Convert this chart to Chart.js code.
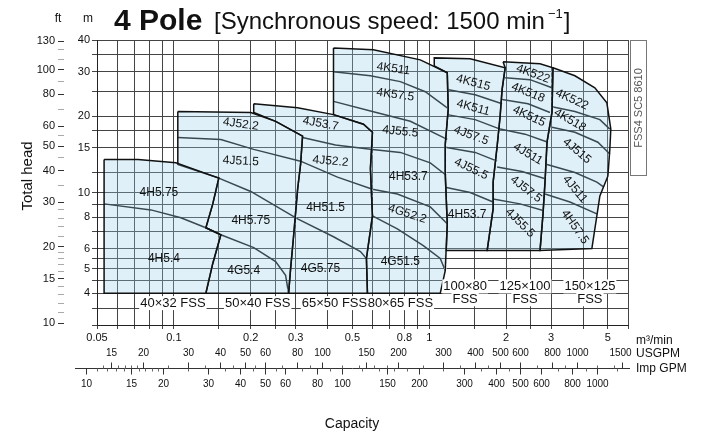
<!DOCTYPE html>
<html>
<head>
<meta charset="utf-8">
<script src="https://cdn.jsdelivr.net/npm/chart.js@4.4.1/dist/chart.umd.min.js"></script>
<style>
  html, body { margin: 0; padding: 0; background: #fff; }
</style>
</head>
<body>
<canvas id="pumpChart" width="712" height="437"></canvas>
<script>
// capacity (m3/min) and head (m) axes
const capGrid = [0.05, 0.06, 0.07, 0.08, 0.09, 0.1, 0.15, 0.2, 0.25, 0.3, 0.4, 0.5, 0.6, 0.7, 0.8, 0.9, 1, 1.5, 2, 2.5, 3, 4, 5, 6];
const capLabels = [0.05, 0.1, 0.2, 0.3, 0.5, 0.8, 1, 2, 3, 5];
const headGrid = [3, 3.5, 4, 4.5, 5, 5.5, 6, 7, 8, 9, 10, 12, 15, 17.5, 20, 25, 30, 35, 40];
const headLabels = [4, 5, 6, 8, 10, 15, 20, 30, 40];
const ftLabels = [10, 15, 20, 30, 40, 50, 60, 80, 100, 130];
const ftMinor = [11, 12, 13, 14, 16, 17, 18, 19, 22, 24, 26, 28, 35, 45, 55, 70, 90, 110, 120];
const usgpmLabels = [15, 20, 30, 40, 50, 60, 80, 100, 150, 200, 300, 400, 500, 600, 800, 1000, 1500];
const usgpmMinor = [14, 16, 17, 18, 19, 25, 35, 45, 55, 70, 90, 120, 140, 160, 180, 250, 350, 450, 700, 900, 1200, 1400];
const impLabels = [10, 15, 20, 30, 40, 50, 60, 80, 100, 150, 200, 300, 400, 500, 600, 800, 1000];
const impMinor = [11, 12, 13, 14, 16, 17, 18, 19, 25, 35, 45, 55, 70, 90, 120, 140, 160, 180, 250, 350, 450, 700, 900, 1200];
const USGPM_PER_M3 = 264.17;
const IMPGPM_PER_M3 = 219.97;
const FT_PER_M = 3.28084;

// outlines of each pump size, [capacity m3/min, head m]
const fss40x32 = [[0.0533,13.5],[0.0724,13.5],[0.1018,13.1],[0.1499,11.4],[0.142,9.02],[0.1334,7.26],[0.1527,6.81],[0.142,5.25],[0.1334,4.0],[0.0533,4.0]];
const fss50x40 = [[0.1036,20.9],[0.2,20.7],[0.2503,19.1],[0.319,16.7],[0.3133,12.9],[0.3051,10.3],[0.2943,6.75],[0.2864,5.01],[0.2813,4.0],[0.1334,4.0],[0.142,5.25],[0.1527,6.81],[0.1334,7.26],[0.142,9.02],[0.1499,11.4],[0.1036,12.9]];
const fss65x50 = [[0.2054,22.4],[0.3051,21.6],[0.4217,20.3],[0.5524,18.6],[0.599,17.3],[0.5882,12.4],[0.599,8.09],[0.5674,5.49],[0.5726,4.0],[0.2813,4.0],[0.2864,5.01],[0.2943,6.75],[0.3051,10.3],[0.3133,12.9],[0.319,16.7],[0.2503,19.1],[0.2054,20.7]];
const fss80x65 = [[0.4217,37.2],[0.6044,36.6],[0.9222,33.4],[1.176,29.7],[1.186,21.3],[1.155,15.5],[1.155,11.8],[1.176,7.53],[1.155,4.92],[1.104,4.0],[0.5726,4.0],[0.5674,5.49],[0.599,8.09],[0.5882,12.4],[0.599,17.3],[0.5524,18.6],[0.4217,20.3]];
const fss100x80 = [[1.046,31.6],[1.046,34.0],[1.446,33.7],[1.982,31.1],[1.928,25.5],[1.894,20.0],[1.843,15.2],[1.778,11.0],[1.778,8.62],[1.685,5.9],[1.165,5.9],[1.176,7.53],[1.155,11.8],[1.155,15.5],[1.186,21.3],[1.176,29.7]];
const fss125x100 = [[1.945,32.8],[2.714,32.2],[3.05,31.1],[3.023,20.7],[2.891,15.8],[2.839,11.0],[2.788,8.24],[2.714,5.9],[1.685,5.9],[1.778,8.62],[1.778,11.0],[1.843,15.2],[1.894,20.0],[1.928,25.5],[1.982,31.1]];
const fss150x125 = [[3.05,31.1],[3.718,28.9],[4.45,25.9],[4.959,22.6],[5.139,17.8],[5.093,14.8],[5.004,11.6],[4.656,9.69],[4.332,6.01],[2.714,5.9],[2.788,8.24],[2.839,11.0],[2.891,15.8],[3.023,20.7]];

// dashed borders between neighbouring pump sizes
const sep1 = [[0.1499,11.4],[0.142,9.02],[0.1334,7.26]];
const sep2 = [[0.1527,6.81],[0.142,5.25],[0.1334,4.0]];
const sep3 = [[0.319,16.7],[0.3133,12.9],[0.3051,10.3],[0.2943,6.75],[0.2864,5.01],[0.2813,4.0]];
const sep4 = [[0.599,17.3],[0.5882,12.4],[0.599,8.09],[0.5674,5.49],[0.5726,4.0]];
const sep5 = [[1.176,29.7],[1.186,21.3],[1.155,15.5],[1.155,11.8],[1.176,7.53],[1.155,4.92]];
const sep6 = [[1.982,31.1],[1.928,25.5],[1.894,20.0],[1.843,15.2],[1.778,11.0],[1.778,8.62],[1.685,5.9]];
const sep7 = [[3.05,31.1],[3.023,20.7],[2.891,15.8],[2.839,11.0],[2.788,8.24],[2.714,5.9]];

// curves splitting the areas by motor / impeller
const curveL1 = [[0.0533,9.02],[0.0813,8.54],[0.1065,7.95],[0.1334,7.26],[0.1527,6.81],[0.2054,6.06],[0.2503,5.34],[0.2738,4.71],[0.2813,4.0]];
const curveL2 = [[0.1499,11.4],[0.2,10.1],[0.3051,7.87],[0.4217,6.69],[0.5377,5.85],[0.5674,5.49]];
const curveL3 = [[0.1036,16.5],[0.1527,16.2],[0.2054,14.8],[0.3133,13.3],[0.4371,11.5],[0.599,10.3],[0.7499,9.87],[1.009,8.78],[1.176,7.53]];
const curveL4 = [[0.319,16.5],[0.4293,15.4],[0.599,14.8],[0.7705,14.4],[1.009,13.1],[1.165,11.7]];
const curveK1 = [[0.4217,30.0],[0.5882,28.9],[0.7705,27.4],[0.9647,25.0],[1.176,21.6]];
const curveK2 = [[0.4217,22.9],[0.599,20.9],[0.8429,19.1],[1.176,16.2]];
const curveK5 = [[0.599,8.09],[0.7499,7.19],[0.9475,6.17],[1.104,5.49],[1.155,4.92]];
const curveM1 = [[1.176,25.5],[1.512,24.3],[1.928,22.4]];
const curveM2 = [[1.176,20.3],[1.512,19.4],[1.894,17.8]];
const curveM3 = [[1.155,15.1],[1.512,14.4],[1.843,13.3]];
const curveM4 = [[1.155,10.5],[1.446,10.0],[1.778,9.18]];
const curveN1 = [[1.982,28.4],[2.48,27.9],[3.023,25.9]];
const curveN2 = [[1.928,23.3],[2.436,22.4],[2.97,20.7]];
const curveN3 = [[1.894,17.8],[2.371,17.0],[2.916,15.8]];
const curveN4 = [[1.843,12.6],[2.308,12.1],[2.864,11.3]];
const curveN5 = [[1.778,9.43],[2.268,9.02],[2.813,8.47]];
const curveP1 = [[3.023,21.8],[3.718,20.9],[4.656,19.4],[5.093,17.8]];
const curveP2 = [[3.023,18.1],[3.718,17.3],[4.573,15.8],[5.093,14.2]];
const curveP3 = [[2.891,12.9],[3.718,12.0],[4.532,11.0],[4.826,10.5]];
const curveP4 = [[2.839,9.87],[3.555,9.18],[4.532,8.24]];

// model names inside the areas
const regionLabels = [
  ['4H5.75', 0.0874, 10.0], ['4H5.4', 0.0914, 5.49],
  ['4J52.2', 0.1827, 18.6], ['4J51.5', 0.1827, 13.3], ['4H5.75', 0.2, 7.73], ['4G5.4', 0.1877, 4.92],
  ['4J53.7', 0.3752, 18.7], ['4J52.2', 0.4105, 13.3], ['4H51.5', 0.3925, 8.7], ['4G5.75', 0.3752, 5.01],
  ['4K511', 0.7234, 30.8], ['4K57.5', 0.7365, 24.3], ['4J55.5', 0.7705, 17.4], ['4H53.7', 0.828, 11.6], ['4G52.2', 0.8205, 8.24], ['4G51.5', 0.7705, 5.34],
  ['4K515', 1.486, 27.1], ['4K511', 1.486, 21.6], ['4J57.5', 1.459, 16.8], ['4J55.5', 1.459, 12.4], ['4H53.7', 1.407, 8.17],
  ['4K522', 2.548, 29.4], ['4K518', 2.436, 24.8], ['4K515', 2.458, 20.0], ['4J511', 2.436, 14.2], ['4J57.5', 2.393, 10.3], ['4J55.5', 2.268, 7.59],
  ['4K522', 3.619, 23.3], ['4K518', 3.555, 19.3], ['4J515', 3.786, 14.6], ['4J511', 3.718, 10.3], ['4H57.5', 3.718, 7.32]
];
const labelTilt = [0, 0, 8, 3, 0, 0, 10, 5, 0, 0, 8, 8, 6, 0, 18, 0, 15, 15, 20, 25, 0, 20, 22, 25, 30, 38, 45, 25, 30, 40, 50, 55];

const seriesNames = ['40×32 FSS', '50×40 FSS', '65×50 FSS', '80×65 FSS'];
const seriesNameAt = [[0.0991, 3.66], [0.2129, 3.66], [0.4255, 3.66], [0.7705, 3.66]];
const bigSeries = ['100×80', '125×100', '150×125'];
const bigSeriesAt = [[1.382, 4.26], [2.371, 4.26], [4.255, 4.26]];
const fssRowHead = 3.79;

const FILL = 'rgba(150, 205, 232, 0.3)';
const FILL_SOLID = '#e1f0f7';
const LINE = '#111';
const FONT = '"Liberation Sans", Arial, sans-serif';

function pts(arr, close) {
  const out = arr.map(p => ({ x: p[0], y: p[1] }));
  if (close) out.push({ x: arr[0][0], y: arr[0][1] });
  return out;
}

const datasets = [];
[fss40x32, fss50x40, fss65x50, fss80x65, fss100x80, fss125x100, fss150x125].forEach(o => {
  datasets.push({ data: pts(o, true), showLine: true, fill: 'shape', backgroundColor: FILL,
    borderColor: LINE, borderWidth: 1.5, pointRadius: 0, tension: 0 });
});
// break the shared borders into dashes
[sep1, sep2, sep3, sep4, sep5, sep6, sep7].forEach(s => {
  datasets.push({ data: pts(s, false), showLine: true, fill: false, borderColor: FILL_SOLID,
    borderWidth: 2.5, borderDash: [2, 4], borderDashOffset: 3, pointRadius: 0, tension: 0 });
});
[curveL1, curveL2, curveL3, curveL4, curveK1, curveK2, curveK5, curveM1, curveM2, curveM3, curveM4,
 curveN1, curveN2, curveN3, curveN4, curveN5, curveP1, curveP2, curveP3, curveP4].forEach(c => {
  datasets.push({ data: pts(c, false), showLine: true, fill: false, borderColor: LINE,
    borderWidth: 1.5, pointRadius: 0, tension: 0 });
});

function textBox(ctx, txt, px, py) {
  const w = ctx.measureText(txt).width;
  ctx.fillStyle = '#fff';
  ctx.fillRect(px - w / 2 - 1, py - 7, w + 2, 14);
  ctx.fillStyle = '#111';
  ctx.fillText(txt, px, py);
}

const drawExtras = {
  id: 'drawExtras',
  afterDatasetsDraw(chart) {
    const { ctx, scales: { x, y } } = chart;
    ctx.save();
    ctx.textAlign = 'center';
    ctx.textBaseline = 'middle';
    ctx.font = '12px ' + FONT;
    ctx.fillStyle = '#111';
    regionLabels.forEach((l, i) => {
      ctx.save();
      ctx.translate(x.getPixelForValue(l[1]), y.getPixelForValue(l[2]));
      ctx.rotate(labelTilt[i] * Math.PI / 180);
      ctx.fillText(l[0], 0, 0);
      ctx.restore();
    });
    ctx.font = '13px ' + FONT;
    seriesNames.forEach((s, i) => {
      textBox(ctx, s, x.getPixelForValue(seriesNameAt[i][0]), y.getPixelForValue(seriesNameAt[i][1]));
    });
    bigSeries.forEach((s, i) => {
      const px = x.getPixelForValue(bigSeriesAt[i][0]);
      textBox(ctx, s, px, y.getPixelForValue(bigSeriesAt[i][1]));
      textBox(ctx, 'FSS', px, y.getPixelForValue(fssRowHead));
    });
    ctx.restore();
  },
  afterDraw(chart) {
    const { ctx, scales: { x } } = chart;
    ctx.save();
    ctx.fillStyle = '#111';
    ctx.textBaseline = 'alphabetic';
    // title
    ctx.textAlign = 'left';
    ctx.font = 'bold 30px ' + FONT;
    ctx.fillText('4 Pole', 114, 30);
    ctx.font = '24px ' + FONT;
    let tx = 214;
    const t1 = '[Synchronous speed: 1500 min';
    ctx.fillText(t1, tx, 29);
    tx += ctx.measureText(t1).width + 3;
    ctx.font = '13px ' + FONT;
    ctx.fillText('−1', tx, 18);
    tx += ctx.measureText('−1').width + 1;
    ctx.font = '24px ' + FONT;
    ctx.fillText(']', tx, 29);

    // units of the head axes
    ctx.font = '12px ' + FONT;
    ctx.textAlign = 'center';
    ctx.fillText('ft', 58, 22);
    ctx.fillText('m', 88, 22);

    ctx.save();
    ctx.translate(27, 176);
    ctx.rotate(-Math.PI / 2);
    ctx.font = '15px ' + FONT;
    ctx.fillText('Total head', 0, 5);
    ctx.restore();

    // right hand code box
    ctx.strokeStyle = '#777';
    ctx.lineWidth = 1;
    ctx.strokeRect(630.5, 40.5, 16, 135);
    ctx.save();
    ctx.translate(639, 108);
    ctx.rotate(-Math.PI / 2);
    ctx.font = '11px ' + FONT;
    ctx.fillStyle = '#555';
    ctx.textBaseline = 'middle';
    ctx.fillText('FSS4 SC5 8610', 0, 0);
    ctx.restore();

    // GPM scales under the capacity axis
    const lineY = 368.5;
    ctx.strokeStyle = '#333';
    ctx.beginPath();
    ctx.moveTo(75, lineY);
    ctx.lineTo(630, lineY);
    ctx.stroke();
    ctx.lineWidth = 1;
    const tick = (v, per, dir, len) => {
      const px = Math.round(x.getPixelForValue(v / per)) + 0.5;
      ctx.beginPath();
      ctx.moveTo(px, lineY);
      ctx.lineTo(px, lineY + dir * len);
      ctx.stroke();
      return px;
    };
    ctx.strokeStyle = '#666';
    usgpmMinor.forEach(v => tick(v, USGPM_PER_M3, -1, 3));
    impMinor.forEach(v => tick(v, IMPGPM_PER_M3, 1, 3));
    ctx.strokeStyle = '#333';
    ctx.font = '10px ' + FONT;
    ctx.textBaseline = 'middle';
    usgpmLabels.forEach(v => {
      const px = tick(v, USGPM_PER_M3, -1, 6);
      ctx.fillText(String(v), v === 1500 ? px - 2 : px, 353);
    });
    impLabels.forEach(v => {
      const px = tick(v, IMPGPM_PER_M3, 1, 6);
      ctx.fillText(String(v), px, 384);
    });
    ctx.textAlign = 'left';
    ctx.font = '12px ' + FONT;
    ctx.fillText('m³/min', 636, 341);
    ctx.fillText('USGPM', 636, 354);
    ctx.fillText('Imp GPM', 636, 369);
    ctx.textAlign = 'center';
    ctx.font = '14px ' + FONT;
    ctx.fillText('Capacity', 352, 424);
    ctx.restore();
  }
};

new Chart(document.getElementById('pumpChart'), {
  type: 'scatter',
  data: { datasets },
  options: {
    responsive: false,
    animation: false,
    layout: { padding: { top: 40, right: 84, bottom: 90, left: 0 } },
    plugins: { legend: { display: false }, tooltip: { enabled: false } },
    scales: {
      x: {
        type: 'logarithmic', min: 0.05, max: 6,
        afterBuildTicks: s => { s.ticks = capGrid.map(v => ({ value: v })); },
        afterFit: s => { s.height = 22; },
        grid: { color: '#444', tickLength: 4 },
        border: { color: '#222' },
        ticks: { autoSkip: false, maxRotation: 0, padding: 2, color: '#111',
          font: { size: 11, family: FONT },
          callback: v => capLabels.includes(v) ? String(v) : '' }
      },
      y: {
        type: 'logarithmic', position: 'left', weight: 0, min: 3, max: 40,
        afterBuildTicks: s => { s.ticks = headGrid.map(v => ({ value: v })); },
        afterFit: s => { s.width = 33; },
        grid: { color: '#444', tickLength: 5 },
        border: { color: '#222' },
        ticks: { autoSkip: false, padding: 2, color: '#111', font: { size: 11, family: FONT },
          callback: v => headLabels.includes(v) ? String(v) : '' }
      },
      ft: {
        type: 'logarithmic', position: 'left', weight: 1,
        min: 3 * FT_PER_M, max: 40 * FT_PER_M,
        afterBuildTicks: s => { s.ticks = ftLabels.concat(ftMinor).map(v => ({ value: v })); },
        afterFit: s => { s.width = 64; },
        grid: { drawOnChartArea: false, tickLength: 6,
          color: c => (c.tick && ftLabels.includes(c.tick.value)) ? '#333' : '#aaa' },
        border: { display: false },
        ticks: { autoSkip: false, padding: 3, color: '#111', font: { size: 11, family: FONT },
          callback: v => ftLabels.includes(v) ? String(v) : '' }
      }
    }
  },
  plugins: [drawExtras]
});
</script>
</body>
</html>
